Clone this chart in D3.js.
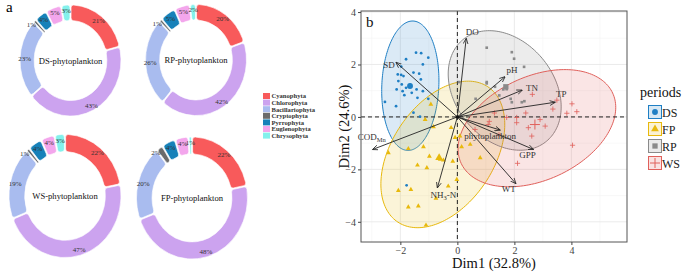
<!DOCTYPE html>
<html>
<head>
<meta charset="utf-8">
<script src="https://cdn.jsdelivr.net/npm/d3@7"></script>
<style>
body { margin: 0; background: #fff; }
svg { display: block; font-family: "Liberation Serif", "Times New Roman", serif; }
</style>
</head>
<body>
<svg id="chart" width="685" height="273"></svg>
<script>
// ---- panel a: phytoplankton composition (%)
const phyla = ['Cyanophyta', 'Chlorophyta', 'Bacillariophyta', 'Cryptophyta', 'Pyrrophyta', 'Euglenophyta', 'Chrysophyta'];
const phylaColors = ['#f85a5b', '#cca3ef', '#a9bcef', '#6b6b6b', '#1781b9', '#f3a6ec', '#83f1ec'];
const donutNames = ['DS-phytoplankton', 'RP-phytoplankton', 'WS-phytoplankton', 'FP-phytoplankton'];
const dsShare = [21, 43, 23, 1, 4, 5, 3];
const rpShare = [20, 42, 26, 1, 5, 5, 2];
const wsShare = [22, 47, 19, 1, 4, 4, 3];
const fpShare = [22, 48, 20, 2, 4, 4, 1];

// ---- panel b: PCA
const periods = ['DS', 'FP', 'RP', 'WS'];
const periodColors = ['#1f7fc4', '#e8b90c', '#8a8a8a', '#e0605b'];
const dsPoints = [[-1.45, 2.45], [-1.27, 2.43], [-1.80, 2.20], [-1.02, 2.26], [-1.21, 2.00], [-1.97, 1.92],
    [-2.09, 1.62], [-1.97, 1.60], [-1.89, 1.56], [-1.54, 1.69], [-1.34, 1.65], [-1.28, 1.43], [-2.07, 1.37],
    [-1.95, 1.24], [-1.80, 1.11], [-2.13, 1.05], [-1.92, 0.98], [-1.43, 1.05], [-1.21, 0.98], [-1.60, 0.92],
    [-1.86, 0.83], [-1.40, 0.73], [-1.02, 0.69], [-2.54, 0.57], [-2.15, 0.41], [-1.54, 0.16], [-1.31, 0.01],
    [-1.66, 1.22], [-1.70, 1.15], [-1.78, -2.61]];
const fpPoints = [[-0.93, 0.48], [-1.13, -0.10], [-0.84, -0.38], [-0.22, -0.41], [0.09, -0.73], [-0.08, -0.79],
    [-2.42, -1.37], [-1.72, -1.21], [-1.19, -1.14], [-0.98, -1.50], [-1.40, -1.84], [-1.07, -1.94], [-0.16, -1.69],
    [-0.02, -2.39], [-2.07, -2.81], [-1.63, -2.77], [-0.32, -2.64], [-1.72, -3.44], [-1.37, -3.40], [-0.75, -3.11],
    [-1.10, -4.13], [0.15, -1.14], [0.45, -1.05], [0.80, -1.56], [-0.60, -1.62], [-0.49, -1.65]];
const rpPoints = [[1.03, 2.64], [1.91, 2.47], [1.99, 2.22], [2.34, 1.91], [1.03, 1.33], [1.32, 1.15], [1.73, 1.06],
    [1.61, 1.05], [0.06, 1.33], [0.64, 0.69], [1.87, 0.69], [2.35, 0.60], [1.47, 0.82], [1.91, 0.56], [2.26, 0.56],
    [1.03, 1.28]];
const wsPoints = [[2.63, 0.86], [3.49, 0.64], [3.35, 0.30], [4.02, 0.50], [3.84, 0.14], [4.19, 0.20], [1.30, 0.15],
    [1.73, -0.02], [2.08, -0.02], [2.40, 0.15], [2.61, -0.73], [2.11, -1.77], [4.04, -1.08], [1.08, -0.29],
    [1.46, -0.68], [2.49, -0.41], [2.08, -0.22], [1.12, -0.17], [0.62, -0.48], [3.08, -0.35], [2.90, -0.10]];
const centroids = [[-1.66, 1.18], [-0.64, -1.56], [1.70, 1.15], [2.72, -0.29]];
// confidence ellipses: centre, semi axes, rotation (deg)
const ellipseCx = [-1.65, -0.51, 1.66, 2.79];
const ellipseCy = [1.19, -1.43, 1.01, -0.43];
const ellipseA = [2.47, 3.03, 2.44, 2.98];
const ellipseB = [1.00, 1.83, 1.78, 1.94];
const ellipseAngle = [87.8, 61.0, 121.4, 29.4];
// variable loadings (arrow tips)
const varNames = ['DO', 'SD', 'COD', 'NH3-N', 'WT', 'GPP', 'phytoplankton', 'TP', 'TN', 'pH'];
const varX = [0.31, -2.15, -2.97, -0.70, 2.05, 2.67, 1.50, 3.43, 2.27, 1.67];
const varY = [2.99, 2.08, -1.24, -2.70, -2.54, -1.24, -0.50, 0.56, 1.02, 1.53];
const xTicks = [-2, 0, 2, 4];
const yTicks = [-4, -2, 0, 2, 4];

const svg = d3.select('#chart');

// ===== panel a =====
svg.append('text').attr('x', 6).attr('y', 12).attr('font-size', 15).text('a');

const donuts = [
    { share: dsShare, cx: 70.5, cy: 60.5, r: 50.5 },
    { share: rpShare, cx: 196, cy: 60, r: 50.5 },
    { share: wsShare, cx: 65, cy: 196, r: 56 },
    { share: fpShare, cx: 192, cy: 198, r: 55.5 }
];
const pie = d3.pie().sort(null).value(d => d);
const yStretch = 1.1;

donuts.forEach(function (dn, i) {
    var inner = dn.r * 0.72;
    var arc = d3.arc().innerRadius(inner).outerRadius(dn.r).cornerRadius(2.5).padAngle(0.018);
    var labelArc = d3.arc().innerRadius(dn.r * 0.91).outerRadius(dn.r * 0.91);
    var arcs = pie(dn.share);
    var g = svg.append('g').attr('transform', 'translate(' + dn.cx + ',' + dn.cy + ') scale(1,' + yStretch + ')');
    g.selectAll('path').data(arcs).join('path')
        .attr('d', arc)
        .attr('fill', (d, k) => phylaColors[k])
        .attr('stroke', '#fff')
        .attr('stroke-width', 0.6);
    var lg = svg.append('g').attr('transform', 'translate(' + dn.cx + ',' + dn.cy + ')');
    // the thin Cryptophyta slice gets its label pushed to the outside left
    lg.selectAll('text').data(arcs).join('text')
        .attr('x', (d, k) => labelArc.centroid(d)[0] - (k === 3 ? 2 : 0))
        .attr('y', d => labelArc.centroid(d)[1] * yStretch + 2.5)
        .attr('text-anchor', (d, k) => k === 3 ? 'end' : 'middle')
        .attr('font-size', 7)
        .attr('fill', '#333')
        .text(d => d.data + '%');
    lg.append('text')
        .attr('x', 0).attr('y', 3)
        .attr('text-anchor', 'middle')
        .attr('font-size', 8.6)
        .attr('fill', '#111')
        .text(donutNames[i]);
});

// legend of phyla
var phylaLegend = svg.append('g').attr('transform', 'translate(263,93)');
phyla.forEach(function (p, i) {
    phylaLegend.append('rect').attr('x', 0).attr('y', i * 6.6).attr('width', 7).attr('height', 6)
        .attr('fill', phylaColors[i]);
    phylaLegend.append('text').attr('x', 8.5).attr('y', i * 6.6 + 5.4)
        .attr('font-size', 6.6).attr('font-weight', 'bold').attr('fill', '#333').text(p);
});

// ===== panel b =====
const pl = { left: 361, right: 627, top: 11, bottom: 242 };
const x = d3.scaleLinear().domain([-3.38, 5.95]).range([pl.left, pl.right]);
const y = d3.scaleLinear().domain([-4.77, 4.04]).range([pl.bottom, pl.top]);

var clipId = 'pcaclip';
svg.append('clipPath').attr('id', clipId).append('rect')
    .attr('x', pl.left).attr('y', pl.top).attr('width', pl.right - pl.left).attr('height', pl.bottom - pl.top);

var pg = svg.append('g');
// grid
var minorX = d3.range(-3, 6, 2), minorY = d3.range(-3, 5, 2);
pg.selectAll('.mx').data(minorX).join('line')
    .attr('x1', d => x(d)).attr('x2', d => x(d)).attr('y1', pl.top).attr('y2', pl.bottom)
    .attr('stroke', '#f3f3f3').attr('stroke-width', 0.6);
pg.selectAll('.my').data(minorY).join('line')
    .attr('y1', d => y(d)).attr('y2', d => y(d)).attr('x1', pl.left).attr('x2', pl.right)
    .attr('stroke', '#f3f3f3').attr('stroke-width', 0.6);
pg.selectAll('.gx').data(xTicks).join('line')
    .attr('x1', d => x(d)).attr('x2', d => x(d)).attr('y1', pl.top).attr('y2', pl.bottom)
    .attr('stroke', '#e6e6e6').attr('stroke-width', 0.8);
pg.selectAll('.gy').data(yTicks).join('line')
    .attr('y1', d => y(d)).attr('y2', d => y(d)).attr('x1', pl.left).attr('x2', pl.right)
    .attr('stroke', '#e6e6e6').attr('stroke-width', 0.8);

// ellipses
var inner = pg.append('g').attr('clip-path', 'url(#' + clipId + ')');
var ellipseLine = d3.line().x(d => x(d[0])).y(d => y(d[1])).curve(d3.curveLinearClosed);
periods.forEach(function (p, i) {
    var th = ellipseAngle[i] * Math.PI / 180;
    var pts = d3.range(0, 2 * Math.PI, Math.PI / 90).map(function (t) {
        var ex = ellipseA[i] * Math.cos(t), ey = ellipseB[i] * Math.sin(t);
        return [ellipseCx[i] + ex * Math.cos(th) - ey * Math.sin(th),
            ellipseCy[i] + ex * Math.sin(th) + ey * Math.cos(th)];
    });
    inner.append('path').attr('d', ellipseLine(pts))
        .attr('fill', periodColors[i]).attr('fill-opacity', 0.16)
        .attr('stroke', periodColors[i]).attr('stroke-width', 1);
});

// zero lines
inner.append('line').attr('x1', pl.left).attr('x2', pl.right).attr('y1', y(0)).attr('y2', y(0))
    .attr('stroke', '#222').attr('stroke-dasharray', '4,3').attr('stroke-width', 1);
inner.append('line').attr('x1', x(0)).attr('x2', x(0)).attr('y1', pl.top).attr('y2', pl.bottom)
    .attr('stroke', '#222').attr('stroke-dasharray', '4,3').attr('stroke-width', 1);

// points
var symbols = [d3.symbolCircle, d3.symbolTriangle, d3.symbolSquare, d3.symbolCross];
function drawMark(sel, i, big) {
    if (i === 3) {
        var s = big ? 5 : 2.6;
        return sel.append('path')
            .attr('d', 'M' + (-s) + ',0H' + s + 'M0,' + (-s) + 'V' + s)
            .attr('stroke', periodColors[i]).attr('stroke-width', big ? 1 : 0.8).attr('fill', 'none');
    }
    var sizes = [6, 10, 7];
    var bigSizes = [27, 26, 28];
    return sel.append('path')
        .attr('d', d3.symbol().type(symbols[i]).size(big ? bigSizes[i] : sizes[i]))
        .attr('fill', periodColors[i]);
}
[dsPoints, fpPoints, rpPoints, wsPoints].forEach(function (pts, i) {
    pts.forEach(function (d) {
        var g = inner.append('g').attr('transform', 'translate(' + x(d[0]) + ',' + y(d[1]) + ')');
        drawMark(g, i, false);
    });
    var c = inner.append('g').attr('transform', 'translate(' + x(centroids[i][0]) + ',' + y(centroids[i][1]) + ')');
    drawMark(c, i, true);
});

// arrows
svg.append('defs').append('marker')
    .attr('id', 'arr').attr('viewBox', '0 0 10 10').attr('refX', 9).attr('refY', 5)
    .attr('markerWidth', 6).attr('markerHeight', 6).attr('markerUnits', 'userSpaceOnUse')
    .attr('orient', 'auto')
    .append('path').attr('d', 'M0,1L9.5,5L0,9').attr('fill', 'none').attr('stroke', '#222').attr('stroke-width', 1.3);

var nudge = {
    'DO': [6, -4], 'SD': [-7, 6], 'COD': [-1, -9], 'NH3-N': [6, 10], 'WT': [-7, 8], 'GPP': [-6, 9],
    'phytoplankton': [-10, 9], 'TP': [6, -5], 'TN': [10, 1], 'pH': [7, -4]
};
varNames.forEach(function (nm, i) {
    pg.append('line')
        .attr('x1', x(0)).attr('y1', y(0)).attr('x2', x(varX[i])).attr('y2', y(varY[i]))
        .attr('stroke', '#222').attr('stroke-width', 0.9).attr('marker-end', 'url(#arr)');
    var t = pg.append('text')
        .attr('x', x(varX[i]) + nudge[nm][0]).attr('y', y(varY[i]) + nudge[nm][1])
        .attr('text-anchor', 'middle').attr('font-size', 9).attr('fill', '#333');
    if (nm === 'COD') {
        t.append('tspan').text('COD');
        t.append('tspan').attr('font-size', 6.5).attr('dy', 2).text('Mn');
    } else if (nm === 'NH3-N') {
        t.append('tspan').text('NH');
        t.append('tspan').attr('font-size', 6.5).attr('dy', 2).text('3');
        t.append('tspan').attr('dy', -2).text('-N');
    } else {
        t.text(nm);
    }
});
pg.append('circle').attr('cx', x(0)).attr('cy', y(0)).attr('r', 1.8).attr('fill', '#111');

// panel border
pg.append('rect').attr('x', pl.left).attr('y', pl.top)
    .attr('width', pl.right - pl.left).attr('height', pl.bottom - pl.top)
    .attr('fill', 'none').attr('stroke', '#555').attr('stroke-width', 1);

// axes
var xAxis = d3.axisBottom(x).tickValues(xTicks).tickSize(3).tickPadding(2);
var yAxis = d3.axisLeft(y).tickValues(yTicks).tickSize(3).tickPadding(2);
var gx = svg.append('g').attr('transform', 'translate(0,' + pl.bottom + ')').call(xAxis);
var gy = svg.append('g').attr('transform', 'translate(' + pl.left + ',0)').call(yAxis);
[gx, gy].forEach(function (g) {
    g.select('.domain').remove();
    g.selectAll('.tick line').attr('stroke', '#444');
    g.selectAll('.tick text').attr('font-family', '"Liberation Serif", serif').attr('font-size', 10).attr('fill', '#444');
});

svg.append('text').attr('x', (pl.left + pl.right) / 2).attr('y', 268)
    .attr('text-anchor', 'middle').attr('font-size', 14.5).attr('fill', '#111').text('Dim1 (32.8%)');
svg.append('text').attr('transform', 'translate(349,' + ((pl.top + pl.bottom) / 2) + ') rotate(-90)')
    .attr('text-anchor', 'middle').attr('font-size', 14.5).attr('fill', '#111').text('Dim2 (24.6%)');
svg.append('text').attr('x', 366).attr('y', 27).attr('font-size', 15).attr('fill', '#111').text('b');

// periods legend
var pLeg = svg.append('g');
pLeg.append('text').attr('x', 640).attr('y', 97).attr('font-size', 14).attr('fill', '#111').text('periods');
periods.forEach(function (p, i) {
    var cy = 112 + i * 17;
    pLeg.append('rect').attr('x', 648.5).attr('y', cy - 6.5).attr('width', 13).attr('height', 13)
        .attr('fill', periodColors[i]).attr('fill-opacity', 0.18)
        .attr('stroke', periodColors[i]).attr('stroke-width', 1);
    var g = pLeg.append('g').attr('transform', 'translate(655,' + cy + ')');
    drawMark(g, i, true);
    pLeg.append('text').attr('x', 662).attr('y', cy + 4.5).attr('font-size', 12).attr('fill', '#222').text(p);
});
</script>
</body>
</html>
